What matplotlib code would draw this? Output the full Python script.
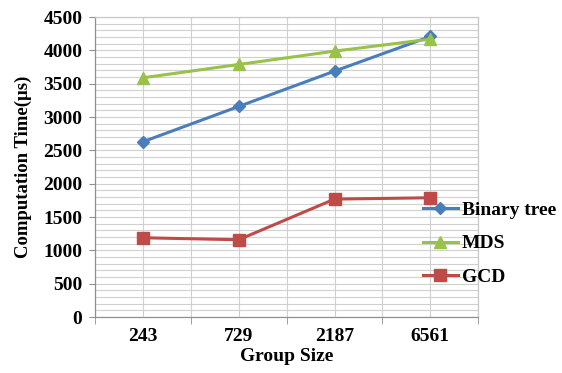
import numpy as np
import matplotlib
matplotlib.use("Agg")
import matplotlib.pyplot as plt
from matplotlib.ticker import MultipleLocator, FixedLocator

# data
group_sizes = ["243", "729", "2187", "6561"]
binary_tree = [2630, 3160, 3690, 4210]
mds = [3590, 3790, 3990, 4170]
gcd = [1190, 1160, 1770, 1790]

plt.rcParams['font.family'] = ['Liberation Serif', 'DejaVu Serif']
plt.rcParams['font.weight'] = 'bold'

fig = plt.figure(figsize=(5.62, 3.73), dpi=100)
ax = fig.add_axes([0.169, 0.150, 0.682, 0.804])

x = np.arange(len(group_sizes))
ax.plot(x, binary_tree, color='#4a7ebb', lw=2.2, marker='D', ms=6.5, label='Binary tree', zorder=3)
ax.plot(x, mds, color='#98c24a', lw=2.2, marker='^', ms=8, label='MDS', zorder=3)
ax.plot(x, gcd, color='#be4b48', lw=2.2, marker='s', ms=8, label='GCD', zorder=3)

ax.set_xlim(-0.5, 3.5)
ax.set_ylim(0, 4500)
ax.yaxis.set_major_locator(MultipleLocator(500))
ax.yaxis.set_minor_locator(MultipleLocator(100))
ax.set_xticks(x)
ax.set_xticklabels(group_sizes)
ax.xaxis.set_minor_locator(FixedLocator(np.arange(-0.5, 4.0, 1.0)))

ax.grid(True, which='both', color='#d0d0d0', lw=0.8)
ax.set_axisbelow(True)
for s in ax.spines.values():
    s.set_color('#c8c8c8')
    s.set_linewidth(0.9)
ax.spines['left'].set_color('#909090')
ax.spines['bottom'].set_color('#909090')

ax.tick_params(axis='x', which='major', length=0, pad=8, labelsize=14)
ax.tick_params(axis='x', which='minor', length=5, color='#909090')
ax.tick_params(axis='y', which='major', length=4, color='#909090', labelsize=14, pad=5)
ax.tick_params(axis='y', which='minor', length=0)

ax.set_xlabel('Group Size', fontsize=14, fontweight='bold', labelpad=2)
ax.set_ylabel('Computation Time(μs)', fontsize=13.5, fontweight='bold', labelpad=8)

ax.legend(loc='upper left', bbox_to_anchor=(0.855, 0.385), frameon=False,
          fontsize=14, handlelength=1.8, handletextpad=0.2, labelspacing=0.8,
          borderaxespad=0, borderpad=0)

fig.savefig('out.png', dpi=100)
